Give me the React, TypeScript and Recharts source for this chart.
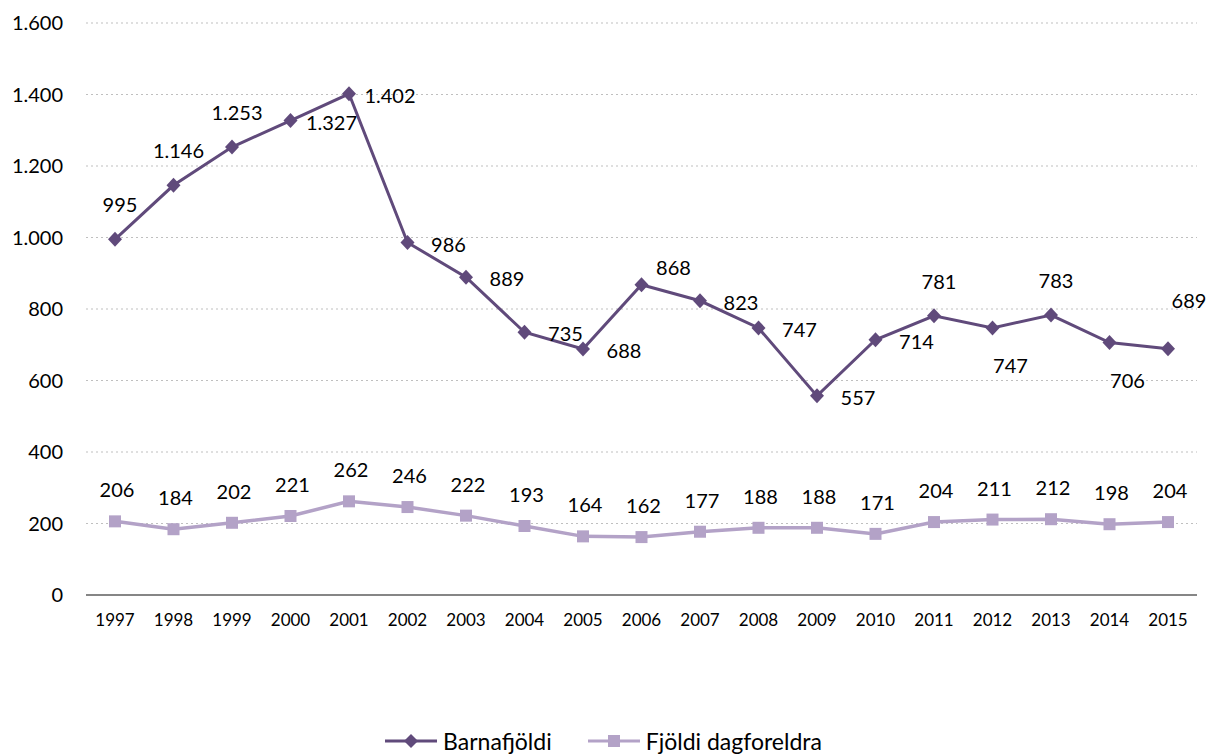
import React from 'react'
import { LineChart, Line, XAxis, YAxis, CartesianGrid, LabelList } from 'recharts'

const years = ['1997', '1998', '1999', '2000', '2001', '2002', '2003', '2004', '2005', '2006', '2007', '2008', '2009', '2010', '2011', '2012', '2013', '2014', '2015']
const barnafjoldi = [995, 1146, 1253, 1327, 1402, 986, 889, 735, 688, 868, 823, 747, 557, 714, 781, 747, 783, 706, 689]
const dagforeldrar = [206, 184, 202, 221, 262, 246, 222, 193, 164, 162, 177, 188, 188, 171, 204, 211, 212, 198, 204]
const yTicks = [0, 200, 400, 600, 800, 1000, 1200, 1400, 1600]
// where each Barnafjöldi label sits relative to its point
const barnaLabelSide = ['above', 'above', 'above', 'right', 'right', 'right', 'right', 'right', 'right', 'upRight', 'right', 'right', 'right', 'right', 'above', 'below', 'above', 'below', 'highRight']

const series = [
  { key: 'barn', name: 'Barnafjöldi', color: '#604A7B', marker: 'diamond' },
  { key: 'dag', name: 'Fjöldi dagforeldra', color: '#B3A2C7', marker: 'square' },
]

const FONT = 'Lato, "Open Sans", sans-serif'

const data = years.map((y, i) => ({ year: y, barn: barnafjoldi[i], dag: dagforeldrar[i] }))

const fmt = (n: number) => String(n).replace(/\B(?=(\d{3})+(?!\d))/g, '.')

const sideOffset: Record<string, [number, number]> = {
  above: [5, -35],
  right: [41, 1],
  below: [18, 37],
  upRight: [32, -18],
  highRight: [21, -49],
}

const Diamond = (p: any) => {
  const { cx, cy, color } = p
  if (cx == null || cy == null) return null
  return <path d={`M${cx},${cy - 7.5}L${cx + 7},${cy}L${cx},${cy + 7.5}L${cx - 7},${cy}Z`} fill={color} />
}

const Square = (p: any) => {
  const { cx, cy, color } = p
  if (cx == null || cy == null) return null
  return <rect x={cx - 6} y={cy - 6} width={12} height={12} fill={color} />
}

const BarnLabel = (p: any) => {
  const { x, y, value, index } = p
  const [dx, dy] = sideOffset[barnaLabelSide[index]] ?? [0, -35]
  return (
    <text x={x + dx} y={y + dy} textAnchor="middle" dominantBaseline="central" fontSize={20} fontFamily={FONT} fill="#000">
      {fmt(value)}
    </text>
  )
}

const DagLabel = (p: any) => {
  const { x, y, value } = p
  return (
    <text x={x + 2} y={y - 32} textAnchor="middle" dominantBaseline="central" fontSize={20} fontFamily={FONT} fill="#000">
      {fmt(value)}
    </text>
  )
}

const LegendMark = ({ color, marker }: { color: string; marker: string }) => (
  <svg width={52} height={20} style={{ display: 'block' }}>
    <line x1={0} y1={10} x2={52} y2={10} stroke={color} strokeWidth={3} />
    {marker === 'diamond' ? (
      <path d="M26,3L33,10L26,17L19,10Z" fill={color} />
    ) : (
      <rect x={20} y={4} width={12} height={12} fill={color} />
    )}
  </svg>
)

export default function App() {
  return (
    <div style={{ position: 'absolute', left: 0, top: 0, width: 1219, height: 756, background: '#fff', fontFamily: FONT }}>
      <LineChart width={1219} height={660} data={data} margin={{ top: 23, right: 22, left: 0, bottom: 0 }}>
        <CartesianGrid horizontal vertical={false} stroke="#BFBFBF" strokeDasharray="2 3" />
        <XAxis
          dataKey="year"
          height={65}
          padding={{ left: 29, right: 29 }}
          tickSize={0}
          tickMargin={19}
          axisLine={{ stroke: '#868686', strokeWidth: 2 }}
          tickLine={false}
          tick={{ fontSize: 17, fill: '#000', fontFamily: FONT }}
          interval={0}
        />
        <YAxis
          width={86}
          domain={[0, 1600]}
          ticks={yTicks}
          tickFormatter={fmt}
          tickSize={0}
          tickMargin={23}
          axisLine={false}
          tickLine={false}
          tick={{ fontSize: 20, fill: '#000', fontFamily: FONT }}
        />
        <Line
          dataKey="barn"
          name={series[0].name}
          stroke={series[0].color}
          strokeWidth={3}
          dot={(p: any) => <Diamond key={p.index} {...p} color={series[0].color} />}
          activeDot={false}
          isAnimationActive={false}
        >
          <LabelList dataKey="barn" content={BarnLabel} />
        </Line>
        <Line
          dataKey="dag"
          name={series[1].name}
          stroke={series[1].color}
          strokeWidth={3.5}
          dot={(p: any) => <Square key={p.index} {...p} color={series[1].color} />}
          activeDot={false}
          isAnimationActive={false}
        >
          <LabelList dataKey="dag" content={DagLabel} />
        </Line>
      </LineChart>
      <div style={{ position: 'absolute', left: 0, top: 726, width: 1219, display: 'flex', justifyContent: 'center', gap: 36, paddingRight: 12, boxSizing: 'border-box' }}>
        {series.map(s => (
          <div key={s.key} style={{ display: 'flex', alignItems: 'center', gap: 6, fontSize: 23, lineHeight: '30px', color: '#000' }}>
            <LegendMark color={s.color} marker={s.marker} />
            <span>{s.name}</span>
          </div>
        ))}
      </div>
    </div>
  )
}
